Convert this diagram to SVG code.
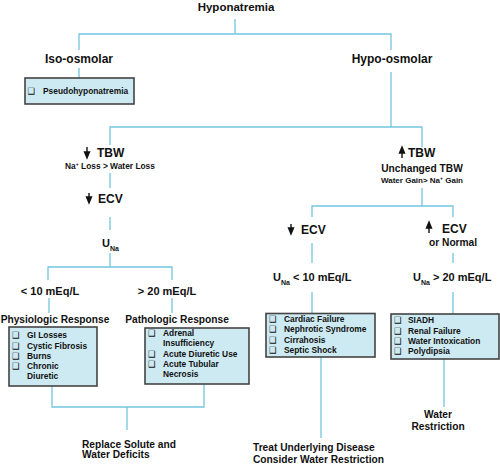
<svg xmlns="http://www.w3.org/2000/svg" width="500" height="465" viewBox="0 0 500 465">
<style>
text{font-family:"Liberation Sans",Arial,sans-serif;font-weight:bold;fill:#111}
.t12{font-size:12px}
.t11{font-size:11px}
.t10{font-size:10.2px}
.sm{font-size:8.4px}
.c{text-anchor:middle}
.box{fill:#cde9f2;stroke:#444;stroke-width:1.6}
.cb{font-family:"DejaVu Sans",sans-serif;font-weight:bold;font-size:8.5px}
.con{fill:none;stroke:#72c6de;stroke-width:1.3}
.arr{fill:#111;stroke:#111;stroke-width:1.4}
</style>
<g id="connectors">
<path class="con" d="M235 19V34" stroke-width="2"/>
<path class="con" d="M79 50V34H391V50"/>
<path class="con" d="M79 68V78"/>
<path class="con" d="M391 72V127"/>
<path class="con" d="M110 145V127H422V147"/>
<path class="con" d="M110 173V188"/>
<path class="con" d="M110 217V230"/>
<path class="con" d="M110 253V267"/>
<path class="con" d="M48 280V267H172V280"/>
<path class="con" d="M49 298V313"/>
<path class="con" d="M172 298V313"/>
<path class="con" d="M52 386V407H204V384"/>
<path class="con" d="M127 407V430"/>
<path class="con" d="M422 188V206"/>
<path class="con" d="M312 217V206H453V217"/>
<path class="con" d="M312 243V263"/>
<path class="con" d="M453 253V263"/>
<path class="con" d="M312 292V313"/>
<path class="con" d="M453 292V314"/>
<path class="con" d="M321 357V438"/>
<path class="con" d="M444 359V407"/>
</g>
<g id="hyponatremia"><text class="c" x="236" y="11" font-size="11.5">Hyponatremia</text></g>
<g id="iso-osmolar"><text class="t12 c" x="79" y="63">Iso-osmolar</text></g>
<g id="hypo-osmolar"><text class="t12 c" x="392" y="63">Hypo-osmolar</text></g>
<g id="pseudo">
<rect class="box" x="25" y="78" width="109" height="26"/>
<text class="cb" x="27.5" y="94">❑</text>
<text class="sm" x="43" y="94">Pseudohyponatremia</text>
</g>
<g id="tbw-down">
<path class="arr" d="M87 147V152"/><path class="arr" d="M84.5 152H89.5L87 158Z"/>
<text class="t12" x="97" y="157">TBW</text>
<text class="sm c" x="110" y="169">Na<tspan font-size="5" dy="-3">+</tspan><tspan dy="3"> Loss &gt; Water Loss</tspan></text>
</g>
<g id="ecv-left">
<path class="arr" d="M89 193V197"/><path class="arr" d="M86.5 197H91.5L89 203Z"/>
<text class="t12" x="98" y="203">ECV</text>
</g>
<g id="una-left"><text class="t11" x="102" y="247">U<tspan font-size="7" dy="4">Na</tspan></text></g>
<g id="lt10"><text class="t11 c" x="50" y="295">&lt; 10 mEq/L</text></g>
<g id="gt20"><text class="t11 c" x="167" y="295">&gt; 20 mEq/L</text></g>
<g id="physiologic">
<text class="t10 c" x="55" y="323">Physiologic Response</text>
<rect class="box" x="9" y="327" width="88" height="59"/>
<text class="cb" x="12" y="338">❑</text><text class="sm" x="27" y="338">GI Losses</text>
<text class="cb" x="12" y="348.5">❑</text><text class="sm" x="27" y="348.5">Cystic Fibrosis</text>
<text class="cb" x="12" y="359">❑</text><text class="sm" x="27" y="359">Burns</text>
<text class="cb" x="12" y="369">❑</text><text class="sm" x="27" y="369">Chronic</text>
<text class="sm" x="27" y="379">Diuretic</text>
</g>
<g id="pathologic">
<text class="t10 c" x="177" y="323">Pathologic Response</text>
<rect class="box" x="145" y="328" width="104" height="56"/>
<text class="cb" x="148" y="336">❑</text><text class="sm" x="163" y="336">Adrenal</text>
<text class="sm" x="163" y="346">Insufficiency</text>
<text class="cb" x="148" y="356.5">❑</text><text class="sm" x="163" y="356.5">Acute Diuretic Use</text>
<text class="cb" x="148" y="367">❑</text><text class="sm" x="163" y="367">Acute Tubular</text>
<text class="sm" x="163" y="377">Necrosis</text>
</g>
<g id="replace">
<text class="t10" x="82" y="448">Replace Solute and</text>
<text class="t10" x="82" y="458">Water Deficits</text>
</g>
<g id="tbw-up">
<path class="arr" d="M402 158V153"/><path class="arr" d="M399.5 153H404.5L402 147Z"/>
<text class="t12" x="408" y="157">TBW</text>
<text class="t10 c" x="422" y="172">Unchanged TBW</text>
<text class="c" font-size="8" x="422" y="183">Water Gain&gt; Na<tspan font-size="5" dy="-3">+</tspan><tspan dy="3"> Gain</tspan></text>
</g>
<g id="ecv-down">
<path class="arr" d="M291 224V228"/><path class="arr" d="M288.5 228H293.5L291 234Z"/>
<text class="t12" x="301" y="234">ECV</text>
</g>
<g id="ecv-up">
<path class="arr" d="M429 233V228"/><path class="arr" d="M426.5 228H431.5L429 222Z"/>
<text class="t12" x="442" y="233">ECV</text>
<text class="t10" x="429" y="246">or Normal</text>
</g>
<g id="una-lt10"><text class="t11" x="273" y="281">U<tspan font-size="7" dy="4">Na</tspan><tspan dy="-4"> &lt; 10 mEq/L</tspan></text></g>
<g id="una-gt20"><text class="t11" x="413" y="281">U<tspan font-size="7" dy="4">Na</tspan><tspan dy="-4"> &gt; 20 mEq/L</tspan></text></g>
<g id="cardiac">
<rect class="box" x="266" y="313.5" width="109" height="43.5"/>
<text class="cb" x="269" y="322">❑</text><text class="sm" x="284" y="322">Cardiac Failure</text>
<text class="cb" x="269" y="332">❑</text><text class="sm" x="284" y="332">Nephrotic Syndrome</text>
<text class="cb" x="269" y="342.5">❑</text><text class="sm" x="284" y="342.5">Cirrahosis</text>
<text class="cb" x="269" y="353">❑</text><text class="sm" x="284" y="353">Septic Shock</text>
</g>
<g id="siadh">
<rect class="box" x="391" y="314" width="108" height="45"/>
<text class="cb" x="394" y="323">❑</text><text class="sm" x="408" y="323">SIADH</text>
<text class="cb" x="394" y="333.5">❑</text><text class="sm" x="408" y="333.5">Renal Failure</text>
<text class="cb" x="394" y="344">❑</text><text class="sm" x="408" y="344">Water Intoxication</text>
<text class="cb" x="394" y="354">❑</text><text class="sm" x="408" y="354">Polydipsia</text>
</g>
<g id="treat">
<text class="t10" x="253" y="451">Treat Underlying Disease</text>
<text class="t10" x="253" y="463">Consider Water Restriction</text>
</g>
<g id="water-restriction">
<text class="t10 c" x="438" y="418">Water</text>
<text class="t10 c" x="438" y="430">Restriction</text>
</g>
</svg>
